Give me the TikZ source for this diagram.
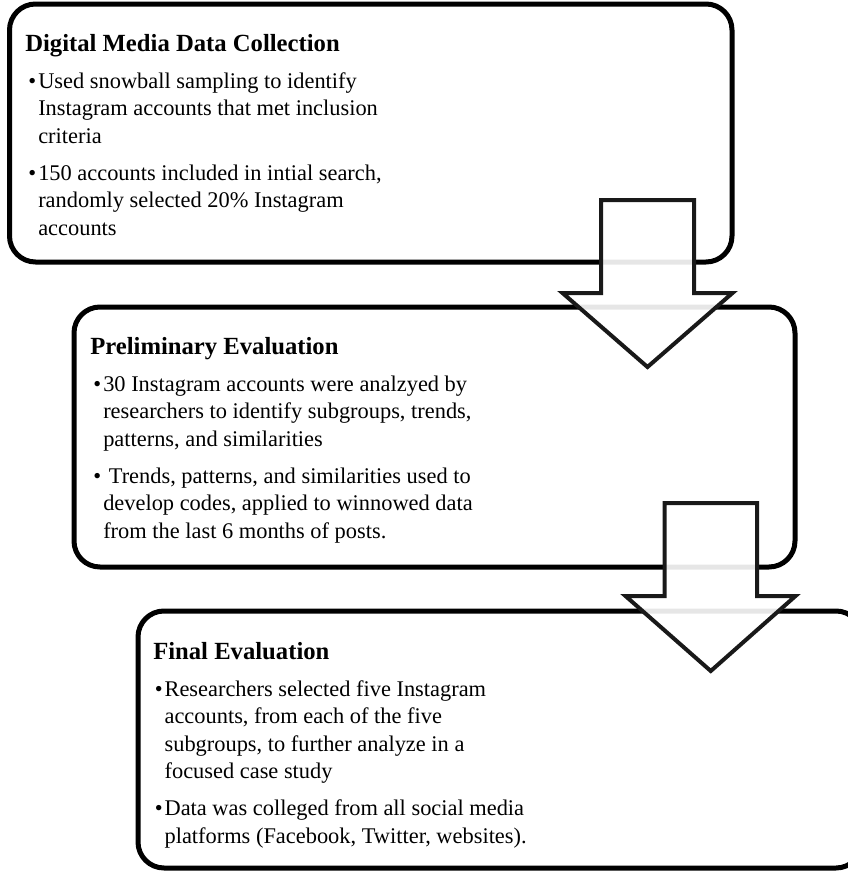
\documentclass[tikz,border=0pt]{standalone}
\usepackage{fontspec}
\setmainfont{Liberation Serif}
\usetikzlibrary{fit}

\tikzset{
  stagebox/.style={draw=black, line width=3.75pt, rounded corners=19.5pt, inner sep=0pt},
  stagetext/.style={anchor=base west, inner sep=0pt},
  blockarrow/.style={draw=black!90, line width=3pt, fill=white, fill opacity=0.9, line join=miter},
}
\newcommand{\stagetitle}[1]{{\fontsize{18.5}{20.6}\selectfont\bfseries #1}\par\leftskip=9.75pt}
\newcommand{\stageitem}{\par\vspace{7.3pt}\leavevmode\llap{\textbullet\hspace{1.5pt}}}

\begin{document}
\begin{tikzpicture}[x=0.75pt,y=-0.75pt,line join=round]
		\useasboundingbox (0,0) rectangle (848,871);
		\clip (0,0) rectangle (848,871);
		% stage boxes
		\node[stagebox, fit={(9.5,4) (732,262)}] (collect) {};
		\node[stagebox, fit={(74,307) (795,567)}] (prelim) {};
		\node[stagebox, fit={(138,611) (862,868)}] (final) {};
		% stage texts
		\node[stagetext] (collect-text) at (25,51) {\parbox[t]{450pt}{\fontsize{16.8}{20.6}\selectfont
			\stagetitle{Digital Media Data Collection}
			\stageitem Used snowball sampling to identify\\
			Instagram accounts that met inclusion\\
			criteria
			\stageitem 150 accounts included in intial search,\\
			randomly selected 20\% Instagram\\
			accounts}};
		\node[stagetext] (prelim-text) at (90,354) {\parbox[t]{450pt}{\fontsize{16.8}{20.6}\selectfont
			\stagetitle{Preliminary Evaluation}
			\stageitem 30 Instagram accounts were analzyed by\\
			researchers to identify subgroups, trends,\\
			patterns, and similarities
			\stageitem\hspace{0.25em}Trends, patterns, and similarities used to\\
			develop codes, applied to winnowed data\\
			from the last 6 months of posts.}};
		\node[stagetext] (final-text) at (153,659) {\parbox[t]{450pt}{\fontsize{16.8}{20.6}\selectfont
			\stagetitle{Final Evaluation}
			\leftskip=8.5pt
			\stageitem Researchers selected five Instagram\\
			accounts, from each of the five\\
			subgroups, to further analyze in a\\
			focused case study
			\stageitem Data was colleged from all social media\\
			platforms (Facebook, Twitter, websites).}};
		% block arrows
		\draw[blockarrow] (601,200) -- (601,293) -- (562.5,293) -- (647.5,367) -- (732.5,293) -- (694,293) -- (694,200) -- cycle;
		\draw[blockarrow] (664.5,503) -- (664.5,596) -- (625.5,596) -- (710.75,671) -- (795.5,596) -- (757,596) -- (757,503) -- cycle;
\end{tikzpicture}
\end{document}
